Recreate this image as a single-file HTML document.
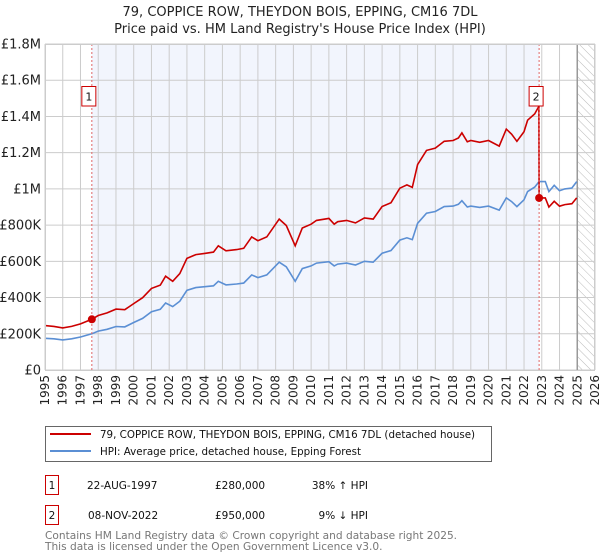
<!DOCTYPE html>
<html><head><meta charset="utf-8"><style>
body{margin:0;background:#fff;font-family:"DejaVu Sans","Liberation Sans",sans-serif;}
svg{display:block}
</style></head><body>
<svg id="chart" width="600" height="560" viewBox="0 0 600 560" font-family="DejaVu Sans, Liberation Sans, sans-serif">
<defs>
<pattern id="hatch" width="6" height="6" patternUnits="userSpaceOnUse" patternTransform="rotate(-45)">
<line x1="0" y1="0" x2="0" y2="6" stroke="#bbb" stroke-width="1"/></pattern>
</defs>
<text x="300" y="16" text-anchor="middle" font-size="13" fill="#222">79, COPPICE ROW, THEYDON BOIS, EPPING, CM16 7DL</text>
<text x="300" y="33" text-anchor="middle" font-size="13" fill="#222">Price paid vs. HM Land Registry's House Price Index (HPI)</text>
<g id="plot"></g>
<g>
<rect x="45.5" y="426.5" width="446" height="35" fill="#fff" stroke="#666"/>
<line x1="50" y1="434" x2="91" y2="434" stroke="#cc0000" stroke-width="2"/>
<text x="100" y="438" font-size="10.3" fill="#111">79, COPPICE ROW, THEYDON BOIS, EPPING, CM16 7DL (detached house)</text>
<line x1="50" y1="451" x2="91" y2="451" stroke="#5b8fd4" stroke-width="2"/>
<text x="100" y="455" font-size="10.3" fill="#111">HPI: Average price, detached house, Epping Forest</text>
</g>
<g font-size="10.5" fill="#111">
<rect x="45.5" y="475.5" width="13" height="19" fill="#fff" stroke="#cc0000"/>
<text x="52" y="489" text-anchor="middle">1</text>
<text x="87" y="489">22-AUG-1997</text>
<text x="215" y="489">£280,000</text>
<text x="368" y="489" text-anchor="end">38% ↑ HPI</text>
<rect x="45.5" y="505.5" width="13" height="19" fill="#fff" stroke="#cc0000"/>
<text x="52" y="519" text-anchor="middle">2</text>
<text x="88" y="519">08-NOV-2022</text>
<text x="215" y="519">£950,000</text>
<text x="368" y="519" text-anchor="end">9% ↓ HPI</text>
</g>
<g font-size="10.6" fill="#777">
<text x="45" y="539">Contains HM Land Registry data © Crown copyright and database right 2025.</text>
<text x="45" y="550">This data is licensed under the Open Government Licence v3.0.</text>
</g>
</svg>
<script>
const hpiYears=[1995,1995.5,1996,1996.5,1997,1997.64,1998,1998.5,1999,1999.5,2000,2000.5,2001,2001.5,2001.8,2002.2,2002.6,2003,2003.5,2004,2004.5,2004.77,2005.2,2005.8,2006.2,2006.65,2007,2007.5,2008.2,2008.6,2009.1,2009.5,2010,2010.3,2011,2011.3,2011.5,2012,2012.5,2013,2013.5,2014,2014.5,2015,2015.4,2015.7,2016,2016.5,2017,2017.5,2018,2018.3,2018.5,2018.8,2019,2019.5,2020,2020.6,2021,2021.3,2021.6,2022,2022.2,2022.6,2022.85,2023.2,2023.4,2023.7,2024,2024.3,2024.7,2024.97];
const hpiValues=[175,172,166,172,182,200,215,225,240,238,262,285,322,335,370,350,380,440,455,460,465,490,470,475,480,525,510,525,595,570,490,560,575,590,598,575,585,590,580,600,595,645,660,717,730,720,810,866,875,902,905,915,935,900,905,898,905,883,950,930,902,940,985,1010,1040,1040,985,1020,990,1000,1005,1040];
const saleYears=[1997.64,2022.85];
const salePrices=[280,950];
const saleLabels=["1","2"];
const yTicks=[0,200,400,600,800,1000,1200,1400,1600,1800];
const yTickLabels=["£0","£200K","£400K","£600K","£800K","£1M","£1.2M","£1.4M","£1.6M","£1.8M"];
const xTicks=[1995,1996,1997,1998,1999,2000,2001,2002,2003,2004,2005,2006,2007,2008,2009,2010,2011,2012,2013,2014,2015,2016,2017,2018,2019,2020,2021,2022,2023,2024,2025,2026];
const dataEnd=2025.0;

const NS="http://www.w3.org/2000/svg";
const L=45,R=595,T=44,B=370;
const xs=y=>L+(y-1995)/(2026-1995)*(R-L);
const ys=v=>B-v/1800*(B-T);
const plot=document.getElementById('plot');
function mk(t,a,p){const e=document.createElementNS(NS,t);for(const k in a)e.setAttribute(k,a[k]);(p||plot).appendChild(e);return e;}
function hpiAt(yr){for(let i=0;i<hpiYears.length-1;i++){if(yr>=hpiYears[i]&&yr<=hpiYears[i+1]){const f=(yr-hpiYears[i])/(hpiYears[i+1]-hpiYears[i]);return hpiValues[i]+f*(hpiValues[i+1]-hpiValues[i]);}}return hpiValues[hpiValues.length-1];}

const shade=mk('rect',{x:xs(saleYears[0]),y:T,width:xs(saleYears[1])-xs(saleYears[0]),height:B-T,fill:'#f2f5fd'});


const hat=mk('rect',{x:xs(dataEnd),y:T,width:R-xs(dataEnd),height:B-T,fill:'url(#hatch)'});



xTicks.forEach(t=>{const x=xs(t);
const g=mk('line',{x1:x,x2:x,y1:T,y2:B,stroke:'#ccc','stroke-width':1});


const tx=mk('text',{x:0,y:0,'font-size':12,fill:'#222','text-anchor':'end',transform:`translate(${x+4},${B+5}) rotate(-90)`});
tx.textContent=t;

});
yTicks.forEach((v,i)=>{const y=ys(v);
const g=mk('line',{x1:L,x2:R,y1:y,y2:y,stroke:'#ccc','stroke-width':1});


const tx=mk('text',{x:L-4,y:y+4.5,'font-size':13,fill:'#222','text-anchor':'end'});
tx.textContent=yTickLabels[i];

});
const el=mk('line',{x1:xs(dataEnd),x2:xs(dataEnd),y1:T,y2:B,stroke:'#999','stroke-width':1.5});



let d=hpiYears.map((y,i)=>(i?'L':'M')+xs(y).toFixed(1)+','+ys(hpiValues[i]).toFixed(1)).join('');
const hl=mk('path',{d:d,fill:'none',stroke:'#5b8fd4','stroke-width':1.6});



const r0=salePrices[0]/hpiAt(saleYears[0]);
const r1=salePrices[1]/hpiAt(saleYears[1]);
let pts=[];
hpiYears.forEach((y,i)=>{const r=y<saleYears[1]?r0:r1;pts.push([y,hpiValues[i]*r]);});
pts.push([saleYears[1]-0.01,hpiAt(saleYears[1])*r0]);
pts.push([saleYears[1],salePrices[1]]);
pts.sort((a,b)=>a[0]-b[0]||b[1]-a[1]);
d=pts.map((p,i)=>(i?'L':'M')+xs(p[0]).toFixed(1)+','+ys(p[1]).toFixed(1)).join('');
const pl=mk('path',{d:d,fill:'none',stroke:'#cc0000','stroke-width':1.6});



saleYears.forEach((y,i)=>{const x=xs(y);
const vl=mk('line',{x1:x,x2:x,y1:T,y2:B,stroke:'#e06666','stroke-width':1,'stroke-dasharray':'2,2'});


const c=mk('circle',{cx:x,cy:ys(salePrices[i]),r:4,fill:'#cc0000'});


const bx=mk('rect',{x:x-10,y:86.5,width:14,height:19.5,fill:'#fff',stroke:'#cc0000'});


const t=mk('text',{x:x-3,y:100.5,'font-size':11,fill:'#111','text-anchor':'middle'});
t.textContent=saleLabels[i];

});
mk('rect',{x:L+0.5,y:T+0.5,width:R-L-1,height:B-T,fill:'none',stroke:'#ccc'});
</script>
</body></html>
